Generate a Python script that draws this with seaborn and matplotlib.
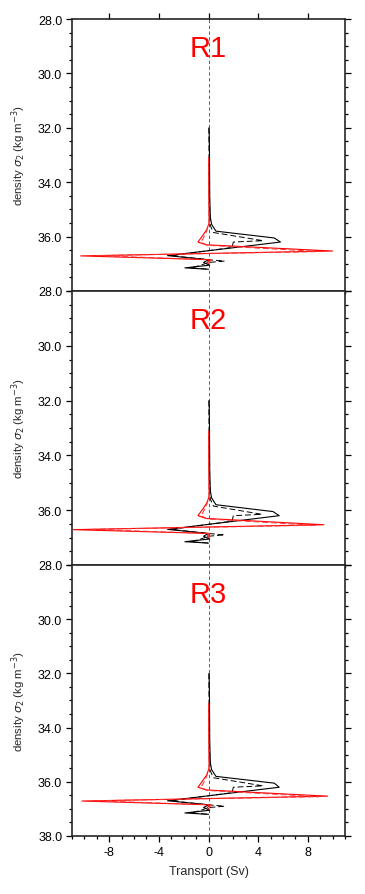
import numpy as np
import pandas as pd
import matplotlib
matplotlib.use("Agg")
import matplotlib.pyplot as plt
import seaborn as sns
from matplotlib.ticker import MultipleLocator, FormatStrFormatter

sns.set_style("ticks")
plt.rcParams['font.family'] = ['Liberation Sans', 'DejaVu Sans']
plt.rcParams['axes.unicode_minus'] = False

# density levels (sigma_2) of each profile's vertices
sig_black_solid = [32.0, 33.0, 34.5, 35.3, 35.55, 35.8, 36.05, 36.2, 36.7, 36.85, 36.95, 37.05, 37.15, 37.2]
sig_black_dash = [32.0, 33.5, 35.0, 35.6, 35.85, 36.15, 36.2, 36.4, 36.7, 36.85, 36.9, 36.95, 37.05, 37.15, 37.2]
sig_red_solid = [33.1, 34.5, 35.5, 35.75, 35.95, 36.2, 36.3, 36.53, 36.71, 36.85, 36.95, 37.0]
sig_red_dash = [33.1, 34.5, 35.5, 35.8, 36.0, 36.2, 36.32, 36.55, 36.7, 36.85, 37.0]

regions = ['R1', 'R2', 'R3']

# transport (Sv) per region
black_solid = {
    'R1': [0.05, 0.08, 0.1, 0.15, 0.25, 0.6, 5.3, 5.8, -3.3, 0.0, -0.4, 0.1, -1.9, 0.0],
    'R2': [0.05, 0.08, 0.1, 0.15, 0.25, 0.6, 5.2, 5.7, -3.3, 0.0, -0.4, 0.1, -1.9, 0.0],
    'R3': [0.05, 0.08, 0.1, 0.15, 0.25, 0.6, 5.3, 5.7, -3.3, 0.0, -0.4, 0.1, -1.9, 0.0],
}
black_dash = {
    'R1': [0.03, 0.05, 0.08, 0.15, 0.4, 4.4, 2.0, 1.9, -3.0, 0.0, 1.3, 0.0, -0.6, -1.4, 0.0],
    'R2': [0.03, 0.05, 0.08, 0.15, 0.4, 4.3, 2.0, 1.9, -3.0, 0.0, 1.3, 0.0, -0.6, -1.4, 0.0],
    'R3': [0.03, 0.05, 0.08, 0.15, 0.4, 4.4, 2.0, 1.9, -3.0, 0.0, 1.3, 0.0, -0.6, -1.4, 0.0],
}
red_solid = {
    'R1': [0.02, 0.03, 0.05, -0.15, -0.45, -0.85, -0.2, 10.0, -10.3, 0.1, -0.1, 0.05],
    'R2': [0.02, 0.03, 0.05, -0.15, -0.45, -0.85, -0.2, 9.3, -10.9, 0.1, -0.1, 0.05],
    'R3': [0.02, 0.03, 0.05, -0.15, -0.45, -0.85, -0.2, 9.6, -10.2, 0.1, -0.1, 0.05],
}
red_dash = {
    'R1': [0.01, 0.02, 0.04, -0.15, -0.35, -0.6, -0.1, 9.0, -9.0, 0.2, 0.0],
    'R2': [0.01, 0.02, 0.04, -0.15, -0.35, -0.6, -0.1, 8.6, -9.6, 0.2, 0.0],
    'R3': [0.01, 0.02, 0.04, -0.15, -0.35, -0.6, -0.1, 8.9, -9.2, 0.2, 0.0],
}

styles = [
    (sig_black_solid, black_solid, 'black', '-', 0.8),
    (sig_black_dash, black_dash, 'black', (0, (6, 3)), 0.7),
    (sig_red_solid, red_solid, 'red', '-', 0.8),
    (sig_red_dash, red_dash, '#ff3030', (0, (6, 3)), 0.7),
]

fig = plt.figure(figsize=(3.65, 8.95), dpi=100)
left, width = 72 / 365, 273 / 365
tops = [20, 292, 566]
bottoms = [292, 566, 837]

for i, reg in enumerate(regions):
    b = 1 - bottoms[i] / 895
    h = (bottoms[i] - tops[i]) / 895
    ax = fig.add_axes([left, b, width, h])

    ax.axvline(0, color='#444444', lw=0.6, dashes=(4, 3), zorder=1)
    for sig, vals, col, ls, lw in styles:
        df = pd.DataFrame({'sigma': sig, 'transport': vals[reg]})
        sns.lineplot(data=df, x='transport', y='sigma', orient='y', sort=False,
                     estimator=None, color=col, linestyle=ls, lw=lw, ax=ax)

    ax.set_xlim(-11, 11)
    ax.set_ylim(38, 28)
    ax.yaxis.set_major_locator(MultipleLocator(2))
    ax.yaxis.set_minor_locator(MultipleLocator(0.5))
    ax.yaxis.set_major_formatter(FormatStrFormatter('%.1f'))
    ax.xaxis.set_major_locator(MultipleLocator(4))
    ax.xaxis.set_minor_locator(MultipleLocator(1))
    ax.tick_params(which='both', direction='out', width=0.9, right=True,
                   labelsize=9, colors='black', pad=2.5)
    ax.tick_params(which='major', length=4.5)
    ax.tick_params(which='minor', length=2.2)
    ax.tick_params(axis='x', top=(i == 0), bottom=(i == 2), labelbottom=(i == 2))
    for s in ax.spines.values():
        s.set_linewidth(1.2)
        s.set_visible(True)

    if i < 2:
        # the next panel's 28.0 sits on this boundary
        labels = ['%.1f' % t if t < 37.9 else '' for t in ax.get_yticks()]
        ax.set_yticks(ax.get_yticks())
        ax.set_yticklabels(labels)
        ax.set_ylim(38, 28)

    ax.set_ylabel(r'density $\sigma_2$ (kg m$^{-3}$)', fontsize=8.2)
    ax.yaxis.set_label_coords(-0.16, 0.5)
    ax.set_xlabel('Transport (Sv)' if i == 2 else '', fontsize=9, labelpad=5)

    ax.text(0.5, 0.893, reg, transform=ax.transAxes, ha='center', va='center',
            color='red', fontsize=21)

fig.savefig('out.png', dpi=100)
